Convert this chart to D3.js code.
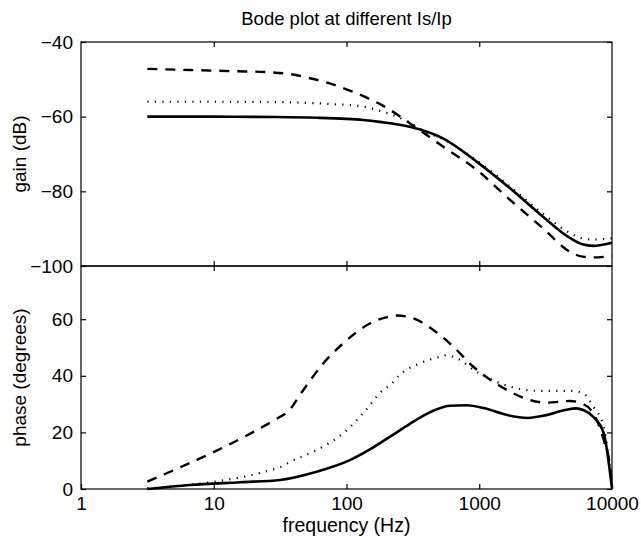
<!DOCTYPE html>
<html>
<head>
<meta charset="utf-8">
<style>
  body { margin: 0; background: #fff; }
  text { font-family: "Liberation Sans", Arial, Helvetica, sans-serif; }
</style>
<script src="https://cdn.jsdelivr.net/npm/d3@7"></script>
</head>
<body>
<script>
// values (frequency in Hz)
var gainSolidF = [3.16, 10, 30, 60, 100, 133, 178, 300, 533, 961, 1706, 3020, 4830, 6000, 7190, 8500, 10000];
var gainSolid  = [-60, -60, -60.1, -60.3, -60.6, -60.9, -61.4, -62.7, -65.8, -72.1, -79.2, -86.8, -92.5, -94.2, -94.6, -94.3, -93.8];

var gainDotF = [3.16, 10, 30, 75, 133, 169, 233, 300, 400, 533, 961, 1706, 3020, 4830, 6000, 7190, 8500, 10000];
var gainDot  = [-56, -56, -56.1, -56.6, -57.3, -58.2, -59.8, -61.6, -64.2, -66, -71.8, -78.7, -86, -91.2, -92.6, -92.9, -92.8, -92.6];

var gainDashF = [3.16, 6.6, 13.3, 26.5, 37.5, 53, 75, 106, 150, 189, 301, 533, 961, 1706, 3020, 4830, 6000, 7190, 10000];
var gainDash  = [-47.2, -47.5, -47.8, -48.1, -48.6, -49.7, -51.1, -53.0, -55.3, -57.1, -61.8, -68, -74.3, -82.3, -89.9, -96.2, -97.5, -97.7, -97.3];

var phaseSolidF = [3.16, 6.6, 15.8, 31.6, 59.6, 106, 150, 213, 300, 420, 600, 800, 1100, 1600, 2300, 3200, 4500, 5350, 6080, 7230, 8660, 10000];
var phaseSolid  = [0, 1.4, 2.4, 3.2, 6.1, 10.2, 14, 18.5, 23, 27, 29.4, 29.6, 28.5, 26.2, 25.1, 26.1, 28, 28.5, 27.9, 25.5, 19.7, 0.2];

var phaseDotF = [3.16, 31.6, 37.5, 59.6, 94.6, 133, 189, 213, 251, 356, 505, 571, 675, 954, 1345, 1906, 2720, 4830, 6080, 7230, 8660, 10000];
var phaseDot  = [0.2, 7.7, 9.6, 13.8, 19.7, 26.7, 35, 36.7, 40.3, 44.4, 46.7, 47.3, 46.2, 41.4, 37.9, 35.6, 34.7, 34.7, 33.8, 29.1, 22, 0.8];

var phaseDashF = [3.16, 31.6, 35.4, 47.3, 66.9, 94.6, 150, 213, 240, 319, 451, 638, 902, 1276, 1806, 2411, 3221, 4830, 6080, 7230, 8660, 9660, 10000];
var phaseDash  = [2.6, 25.5, 26.9, 35, 44.4, 51.5, 58.5, 61, 61.3, 60.3, 56.2, 50.3, 43.2, 37.9, 33.8, 31.4, 30.5, 31.1, 30, 26.7, 17.3, 7.9, 0.8];

var freqTicks  = [1, 10, 100, 1000, 10000];
var gainTicks  = [-100, -80, -60, -40];
var phaseTicks = [0, 20, 40, 60];

var width = 641, height = 540;
var pL = 81, pR = 612, pT = 42, pM = 266, pB = 489;

var svg = d3.select("body").append("svg")
    .attr("width", width)
    .attr("height", height);

var x = d3.scaleLog().domain([1, 10000]).range([pL, pR]);
var yG = d3.scaleLinear().domain([-100, -40]).range([pM, pT]);
var yP = d3.scaleLinear().domain([0, 78.8]).range([pB, pM]);

function zip(f, v) { return f.map(function(d, i) { return [d, v[i]]; }); }

// panel frame + inward ticks, like matlab
function panel(y, yt, y0, y1, showX) {
  var g = svg.append("g");
  g.append("rect")
    .attr("x", pL).attr("y", y1)
    .attr("width", pR - pL).attr("height", y0 - y1)
    .attr("fill", "none").attr("stroke", "#000").attr("stroke-width", 1.2);

  g.append("g").attr("transform", "translate(" + pL + ",0)")
    .call(d3.axisLeft(y).tickValues(yt).tickSizeInner(-5).tickSizeOuter(0).tickPadding(8));
  g.append("g").attr("transform", "translate(" + pR + ",0)")
    .call(d3.axisRight(y).tickValues(yt).tickSizeInner(-5).tickSizeOuter(0).tickFormat(""));
  g.append("g").attr("transform", "translate(0," + y1 + ")")
    .call(d3.axisTop(x).tickValues([10, 100, 1000]).tickSizeInner(-5).tickSizeOuter(0).tickFormat(""));
  g.append("g").attr("transform", "translate(0," + y0 + ")")
    .call(d3.axisBottom(x).tickValues(showX ? freqTicks : [10, 100, 1000]).tickSizeInner(-5).tickSizeOuter(0)
      .tickPadding(8).tickFormat(showX ? d3.format("d") : ""));

  g.selectAll(".domain").remove();
  g.selectAll(".tick line").attr("stroke", "#000").attr("stroke-width", 1.2);
  g.selectAll(".tick text").attr("font-size", 19).attr("fill", "#000")
    .style("font-family", "'Liberation Sans', Arial, sans-serif");
  return g;
}

panel(yG, gainTicks, pM, pT, false);
panel(yP, phaseTicks, pB, pM, true);

function draw(f, v, y, dash, sw) {
  var line = d3.line()
    .x(function(d) { return x(d[0]); })
    .y(function(d) { return y(d[1]); })
    .curve(d3.curveMonotoneX);
  svg.append("path").datum(zip(f, v))
    .attr("d", line)
    .attr("fill", "none")
    .attr("stroke", "#000")
    .attr("stroke-width", sw)
    .attr("stroke-dasharray", dash);
}

draw(gainSolidF, gainSolid, yG, null, 2.6);
draw(gainDotF, gainDot, yG, "1.2,6.3", 2.2);
draw(gainDashF, gainDash, yG, "10,8", 2.4);

draw(phaseSolidF, phaseSolid, yP, null, 2.6);
draw(phaseDotF, phaseDot, yP, "1.2,6.3", 2.2);
draw(phaseDashF, phaseDash, yP, "10,8", 2.4);

svg.append("text")
  .text("Bode plot at different Is/Ip")
  .attr("x", (pL + pR) / 2).attr("y", 25)
  .attr("text-anchor", "middle").attr("font-size", 18.5);

svg.append("text")
  .text("frequency (Hz)")
  .attr("x", (pL + pR) / 2).attr("y", 532)
  .attr("text-anchor", "middle").attr("font-size", 19.5);

svg.append("text")
  .text("gain (dB)")
  .attr("transform", "translate(26," + (pT + pM) / 2 + ") rotate(-90)")
  .attr("text-anchor", "middle").attr("font-size", 19);

svg.append("text")
  .text("phase (degrees)")
  .attr("transform", "translate(26," + (pM + pB) / 2 + ") rotate(-90)")
  .attr("text-anchor", "middle").attr("font-size", 19);
</script>
</body>
</html>
